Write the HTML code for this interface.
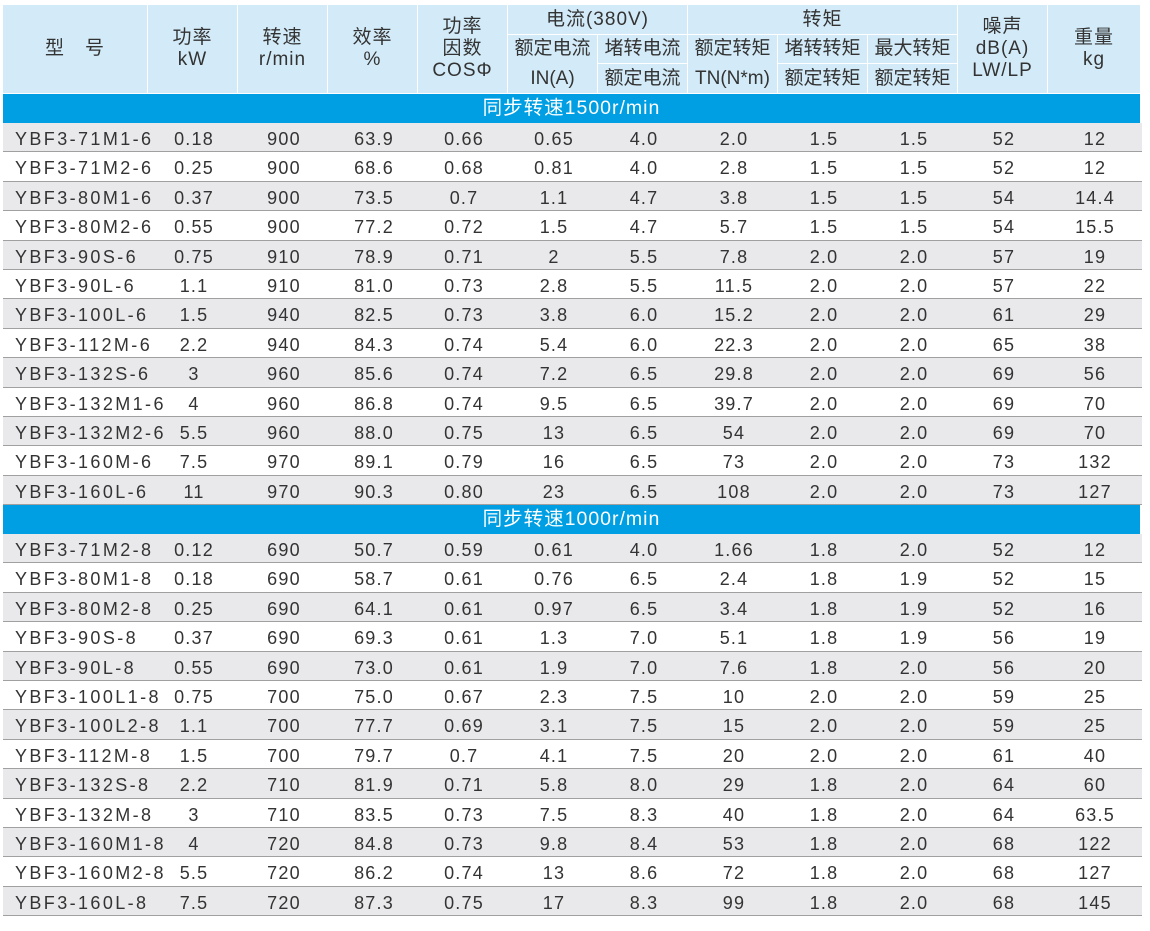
<!DOCTYPE html>
<html><head><meta charset="utf-8"><style>
body{margin:0;width:1150px;height:931px;background:#fff;font-family:"Liberation Sans","Noto Sans CJK SC",sans-serif;color:#333;position:relative;overflow:hidden}
.h{position:absolute;background:#d3ebf8;border-right:1px solid #fff;border-bottom:1px solid #fff;box-sizing:border-box;display:flex;align-items:center;justify-content:center;text-align:center;font-size:19px;line-height:22px;color:#333;letter-spacing:1px}
.band{position:absolute;left:3px;width:1137px;height:29px;background:#009fe3;color:#fff;font-size:19.5px;text-align:center;line-height:29px;letter-spacing:1px}
.r{position:absolute;left:3px;width:1139px;height:29.4px;box-sizing:border-box;border-bottom:1px solid #a0a0a0;font-size:18px;line-height:32px}
.g{background:#e9e9eb}
.r span{position:absolute;top:0;text-align:center;width:90px;letter-spacing:1.2px}
.r span.m{left:12px;text-align:left;width:160px;letter-spacing:2.4px}
</style></head><body>
<div class="h" style="left:3px;top:5px;width:145px;height:89px">型　号</div>
<div class="h" style="left:148px;top:5px;width:90px;height:89px">功率<br>kW</div>
<div class="h" style="left:238px;top:5px;width:90px;height:89px">转速<br>r/min</div>
<div class="h" style="left:328px;top:5px;width:90px;height:89px">效率<br>%</div>
<div class="h" style="left:418px;top:5px;width:90px;height:89px">功率<br>因数<br>COSΦ</div>
<div class="h" style="left:508px;top:5px;width:180px;height:30px">电流(380V)</div>
<div class="h" style="left:508px;top:35px;width:90px;height:59px;line-height:30px;letter-spacing:0">额定电流<br>IN(A)</div>
<div class="h" style="left:598px;top:35px;width:90px;height:29px;letter-spacing:0">堵转电流</div>
<div class="h" style="left:598px;top:64px;width:90px;height:30px;letter-spacing:0">额定电流</div>
<div class="h" style="left:688px;top:5px;width:270px;height:30px">转矩</div>
<div class="h" style="left:688px;top:35px;width:90px;height:59px;line-height:30px;letter-spacing:0">额定转矩<br>TN(N*m)</div>
<div class="h" style="left:778px;top:35px;width:90px;height:29px;letter-spacing:0">堵转转矩</div>
<div class="h" style="left:778px;top:64px;width:90px;height:30px;letter-spacing:0">额定转矩</div>
<div class="h" style="left:868px;top:35px;width:90px;height:29px;letter-spacing:0">最大转矩</div>
<div class="h" style="left:868px;top:64px;width:90px;height:30px;letter-spacing:0">额定转矩</div>
<div class="h" style="left:958px;top:5px;width:90px;height:89px">噪声<br>dB(A)<br>LW/LP</div>
<div class="h" style="left:1048px;top:5px;width:92px;height:89px;border-right:0">重量<br>kg</div>
<div class="band" style="top:94px">同步转速1500r/min</div>
<div class="band" style="top:505px">同步转速1000r/min</div>
<div id="rows"></div>
<script>
var A=[
["YBF3-71M1-6","0.18","900","63.9","0.66","0.65","4.0","2.0","1.5","1.5","52","12"],
["YBF3-71M2-6","0.25","900","68.6","0.68","0.81","4.0","2.8","1.5","1.5","52","12"],
["YBF3-80M1-6","0.37","900","73.5","0.7","1.1","4.7","3.8","1.5","1.5","54","14.4"],
["YBF3-80M2-6","0.55","900","77.2","0.72","1.5","4.7","5.7","1.5","1.5","54","15.5"],
["YBF3-90S-6","0.75","910","78.9","0.71","2","5.5","7.8","2.0","2.0","57","19"],
["YBF3-90L-6","1.1","910","81.0","0.73","2.8","5.5","11.5","2.0","2.0","57","22"],
["YBF3-100L-6","1.5","940","82.5","0.73","3.8","6.0","15.2","2.0","2.0","61","29"],
["YBF3-112M-6","2.2","940","84.3","0.74","5.4","6.0","22.3","2.0","2.0","65","38"],
["YBF3-132S-6","3","960","85.6","0.74","7.2","6.5","29.8","2.0","2.0","69","56"],
["YBF3-132M1-6","4","960","86.8","0.74","9.5","6.5","39.7","2.0","2.0","69","70"],
["YBF3-132M2-6","5.5","960","88.0","0.75","13","6.5","54","2.0","2.0","69","70"],
["YBF3-160M-6","7.5","970","89.1","0.79","16","6.5","73","2.0","2.0","73","132"],
["YBF3-160L-6","11","970","90.3","0.80","23","6.5","108","2.0","2.0","73","127"]];
var B=[
["YBF3-71M2-8","0.12","690","50.7","0.59","0.61","4.0","1.66","1.8","2.0","52","12"],
["YBF3-80M1-8","0.18","690","58.7","0.61","0.76","6.5","2.4","1.8","1.9","52","15"],
["YBF3-80M2-8","0.25","690","64.1","0.61","0.97","6.5","3.4","1.8","1.9","52","16"],
["YBF3-90S-8","0.37","690","69.3","0.61","1.3","7.0","5.1","1.8","1.9","56","19"],
["YBF3-90L-8","0.55","690","73.0","0.61","1.9","7.0","7.6","1.8","2.0","56","20"],
["YBF3-100L1-8","0.75","700","75.0","0.67","2.3","7.5","10","2.0","2.0","59","25"],
["YBF3-100L2-8","1.1","700","77.7","0.69","3.1","7.5","15","2.0","2.0","59","25"],
["YBF3-112M-8","1.5","700","79.7","0.7","4.1","7.5","20","2.0","2.0","61","40"],
["YBF3-132S-8","2.2","710","81.9","0.71","5.8","8.0","29","1.8","2.0","64","60"],
["YBF3-132M-8","3","710","83.5","0.73","7.5","8.3","40","1.8","2.0","64","63.5"],
["YBF3-160M1-8","4","720","84.8","0.73","9.8","8.4","53","1.8","2.0","68","122"],
["YBF3-160M2-8","5.5","720","86.2","0.74","13","8.6","72","1.8","2.0","68","127"],
["YBF3-160L-8","7.5","720","87.3","0.75","17","8.3","99","1.8","2.0","68","145"]];
var h="";
function add(d,top){d.forEach(function(r,i){
 h+='<div class="r'+(i%2==0?' g':'')+'" style="top:'+(top+i*29.4)+'px"><span class="m">'+r[0]+'</span>';
 for(var j=1;j<12;j++){var l=148+(j-1)*90-2+(j==11?1:0);h+='<span style="left:'+l+'px">'+r[j]+'</span>';}
 h+='</div>';});}
add(A,123);add(B,534);
document.getElementById('rows').innerHTML=h;
</script>
</body></html>
